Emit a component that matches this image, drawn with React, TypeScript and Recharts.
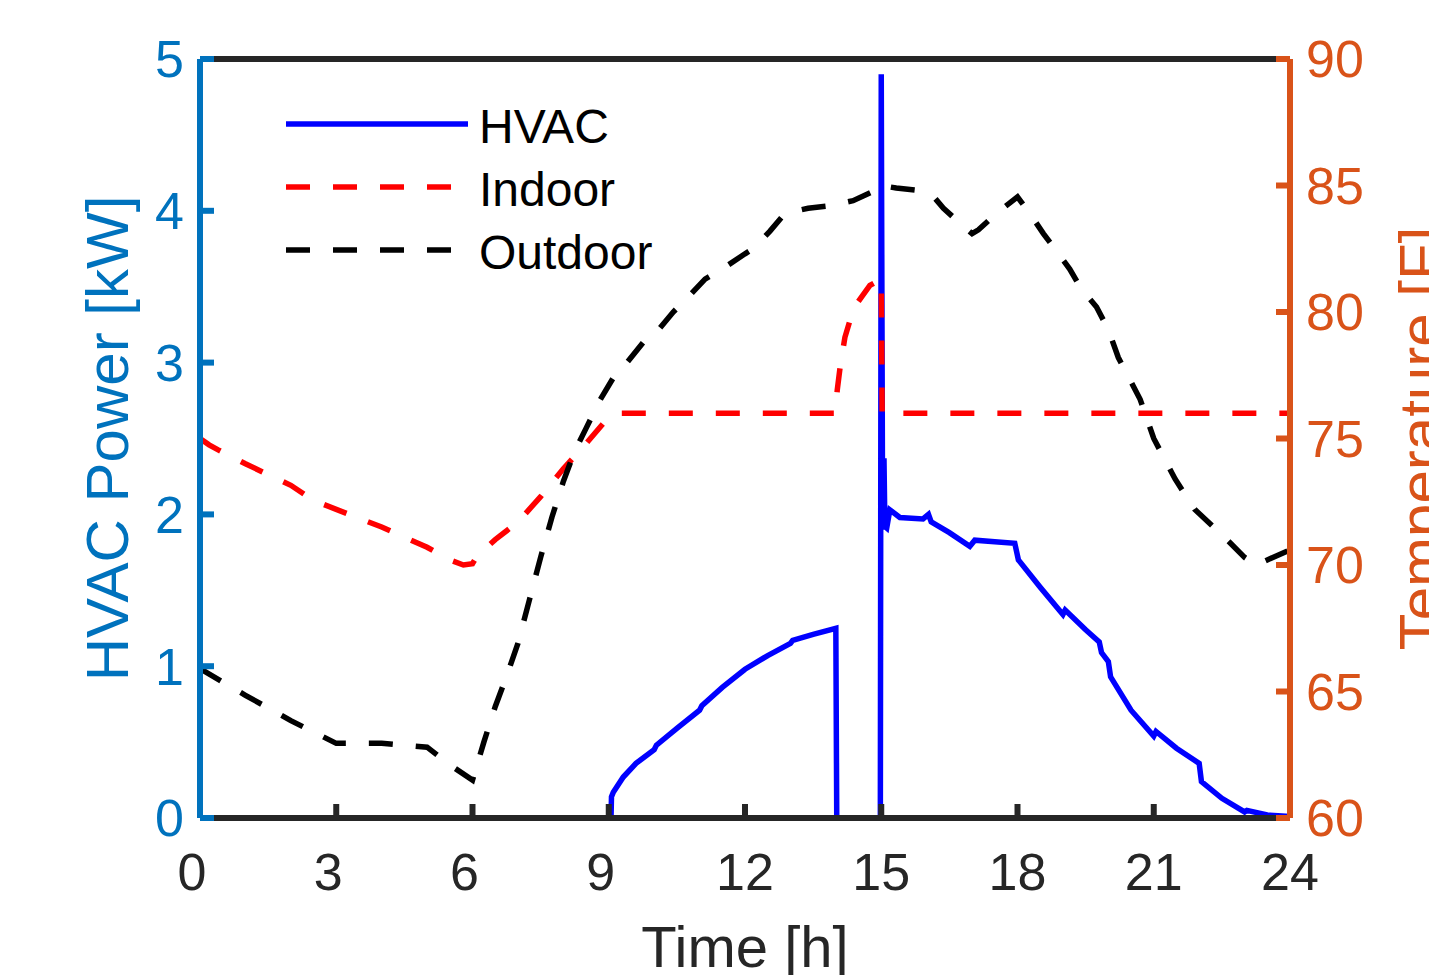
import { LineChart, Line, XAxis, YAxis, Legend, Label } from "recharts"

// HVAC power [kW] over the day
const hvacTime = [
  0, 9.05, 9.06, 9.1, 9.32, 9.6, 10.0, 10.05, 10.5, 11.0, 11.05, 11.5, 12.0, 12.5,
  13.0, 13.05, 13.5, 14.0, 14.02, 14.98, 15.0, 15.03, 15.06, 15.08, 15.12, 15.19,
  15.41, 15.92, 16.04, 16.1, 16.5, 16.95, 17.06, 17.5, 17.94, 18.02, 18.5, 19.0,
  19.05, 19.5, 19.8, 19.85, 20.0, 20.05, 20.5, 21.0, 21.05, 21.5, 22.0, 22.05,
  22.5, 23.0, 23.05, 23.5, 24,
]
const hvacPower = [
  0, 0, 0.14, 0.17, 0.27, 0.36, 0.45, 0.48, 0.59, 0.71, 0.74, 0.86, 0.98, 1.07,
  1.15, 1.17, 1.21, 1.25, 0, 0, 4.9, 1.9, 2.37, 1.92, 1.91, 2.03,
  1.98, 1.97, 2.0, 1.95, 1.88, 1.79, 1.83, 1.82, 1.81, 1.7, 1.52, 1.34,
  1.37, 1.24, 1.16, 1.09, 1.03, 0.93, 0.71, 0.54, 0.57, 0.46, 0.36, 0.24,
  0.13, 0.04, 0.05, 0.02, 0.01,
]

// indoor temperature [F]
const indoorTime = [
  0, 0.2, 0.4, 1, 2, 2.5, 3, 4, 5, 5.5, 5.8, 6.0, 6.1, 6.5, 7, 7.5, 8, 8.5, 9,
  9.2, 14.0, 14.03, 14.1, 14.2, 14.3, 14.45, 14.75, 15.0, 15.02, 24,
]
const indoorTemp = [
  75.0, 74.75, 74.55, 74.0, 73.15, 72.55, 72.2, 71.5, 70.7, 70.2, 70.0, 70.05, 70.35,
  71.0, 71.7, 72.7, 73.8, 74.8, 75.85, 76.0, 76.0, 76.9, 77.9, 79.0, 79.6, 80.3,
  81.05, 81.3, 76.0, 76.0,
]

// outdoor temperature [F]
const outdoorTime = [
  0, 1, 2, 3, 4, 5, 5.5, 6.0, 6.25, 6.5, 6.75, 7.0, 7.25, 7.5, 7.75, 8.0, 8.25,
  8.5, 8.8, 9.1, 9.4, 9.76, 10.05, 10.42, 10.75, 11.12, 11.5, 12.0, 12.18, 12.55,
  12.88, 13.39, 13.87, 14.38, 14.86, 15.0, 15.33, 15.85, 16.18, 16.37, 16.77,
  17.0, 17.14, 17.54, 18.0, 18.27, 18.57, 18.86, 19.15, 19.41, 19.74, 20.0, 20.22,
  20.7, 21.0, 21.47, 21.9, 22.5, 23.0, 23.25, 24,
]
const outdoorTemp = [
  65.9, 64.85, 63.85, 62.95, 62.95, 62.8, 62.1, 61.5, 63.0, 64.4, 65.6, 66.9, 68.6,
  70.3, 71.9, 73.3, 74.5, 75.4, 76.5, 77.4, 78.0, 78.8, 79.2, 80.0, 80.6, 81.3,
  81.7, 82.3, 82.5, 83.2, 83.9, 84.1, 84.2, 84.4, 84.8, 85.0, 84.9, 84.8, 84.5,
  84.1, 83.45, 83.1, 83.25, 83.9, 84.55, 83.9, 83.1, 82.4, 81.7, 80.9, 80.2, 79.3,
  78.2, 76.55, 75.0, 73.4, 72.2, 71.2, 70.3, 70.0, 70.6,
]

const timeTicks = [0, 3, 6, 9, 12, 15, 18, 21, 24]
const powerTicks = [0, 1, 2, 3, 4, 5]
const tempTicks = [60, 65, 70, 75, 80, 85, 90]

const toPoints = (ts: number[], vs: number[]) => ts.map((t, i) => ({ t, v: vs[i] }))

const FONT = "'Liberation Sans', Arial, Helvetica, sans-serif"
const BLUE_AXIS = "#0072BD"
const ORANGE_AXIS = "#D95319"
const DARK = "#262626"
const DASH = "24 23"
const LW = 5.5

function LegendBox({ payload }: any) {
  return (
    <svg width={420} height={190} style={{ display: "block", overflow: "visible" }}>
      {(payload || []).map((p: any, i: number) => {
        const y = 29 + i * 63
        return (
          <g key={p.value}>
            <line
              x1={16}
              x2={198}
              y1={y}
              y2={y}
              stroke={p.color}
              strokeWidth={LW}
              strokeDasharray={p.payload?.strokeDasharray}
            />
            <text x={209} y={y + 19} fontSize={48} fill="#000" fontFamily={FONT}>
              {p.value}
            </text>
          </g>
        )
      })}
    </svg>
  )
}

// matlab puts the one-digit hour labels a little left of their tick
function TimeTick({ x, y, payload }: any) {
  const v = payload?.value
  const shift = v < 10 ? -8 : 0
  return (
    <text
      x={x + shift}
      y={y}
      dy="0.71em"
      textAnchor="middle"
      fontSize={52}
      fill={DARK}
      fontFamily={FONT}
    >
      {v}
    </text>
  )
}

export default function App() {
  const axisStroke = (c: string) => ({ stroke: c, strokeWidth: 6 })

  return (
    <div
      style={{
        position: "absolute",
        left: 0,
        top: 0,
        width: 1429,
        height: 975,
        background: "#fff",
        fontFamily: FONT,
      }}
    >
      <LineChart width={1429} height={975} margin={{ top: 58, right: 0, bottom: 0, left: 0 }}>
        <XAxis
          xAxisId="bottom"
          dataKey="t"
          type="number"
          domain={[0, 24]}
          ticks={timeTicks}
          interval={0}
          height={157}
          axisLine={axisStroke(DARK)}
          tickLine={axisStroke(DARK)}
          tickSize={-14}
          tickMargin={49}
          tick={<TimeTick />}
        >
          <Label
            content={(props: any) => {
              const vb = props.viewBox || { x: 200, width: 1090, y: 818 }
              return (
                <text
                  x={vb.x + vb.width / 2}
                  y={967}
                  textAnchor="middle"
                  fontSize={58}
                  fill={DARK}
                  fontFamily={FONT}
                >
                  Time [h]
                </text>
              )
            }}
          />
        </XAxis>
        <XAxis
          xAxisId="top"
          orientation="top"
          dataKey="t"
          type="number"
          domain={[0, 24]}
          ticks={timeTicks}
          interval={0}
          height={1}
          axisLine={axisStroke(DARK)}
          tickLine={axisStroke(DARK)}
          tickSize={-14}
          tick={false}
        />
        <YAxis
          yAxisId="kw"
          type="number"
          domain={[0, 5]}
          ticks={powerTicks}
          interval={0}
          width={200}
          axisLine={axisStroke(BLUE_AXIS)}
          tickLine={axisStroke(BLUE_AXIS)}
          tickSize={-14}
          tickMargin={30}
          tick={{ fill: BLUE_AXIS, fontSize: 52, fontFamily: FONT }}
        >
          <Label
            content={(props: any) => {
              const vb = props.viewBox || { y: 59, height: 759 }
              const cy = vb.y + vb.height / 2
              return (
                <text
                  x={128}
                  y={cy}
                  transform={`rotate(-90 128 ${cy})`}
                  textAnchor="middle"
                  fontSize={60}
                  fill={BLUE_AXIS}
                  fontFamily={FONT}
                >
                  HVAC Power [kW]
                </text>
              )
            }}
          />
        </YAxis>
        <YAxis
          yAxisId="temp"
          orientation="right"
          type="number"
          domain={[60, 90]}
          ticks={tempTicks}
          interval={0}
          width={139}
          axisLine={axisStroke(ORANGE_AXIS)}
          tickLine={axisStroke(ORANGE_AXIS)}
          tickSize={-14}
          tickMargin={30}
          tick={{ fill: ORANGE_AXIS, fontSize: 52, fontFamily: FONT }}
        >
          <Label
            content={(props: any) => {
              const vb = props.viewBox || { y: 59, height: 759 }
              const cy = vb.y + vb.height / 2
              return (
                <text
                  x={1441}
                  y={cy}
                  transform={`rotate(-90 1441 ${cy})`}
                  textAnchor="middle"
                  fontSize={60}
                  fill={ORANGE_AXIS}
                  fontFamily={FONT}
                >
                  Temperature [F]
                </text>
              )
            }}
          />
        </YAxis>

        <Line
          name="HVAC"
          xAxisId="bottom"
          yAxisId="kw"
          data={toPoints(hvacTime, hvacPower)}
          dataKey="v"
          type="linear"
          stroke="#0000FF"
          strokeWidth={LW}
          dot={false}
          activeDot={false}
          isAnimationActive={false}
        />
        <Line
          name="Indoor"
          xAxisId="bottom"
          yAxisId="temp"
          data={toPoints(indoorTime, indoorTemp)}
          dataKey="v"
          type="linear"
          stroke="#FF0000"
          strokeWidth={LW}
          strokeDasharray={DASH}
          dot={false}
          activeDot={false}
          isAnimationActive={false}
        />
        <Line
          name="Outdoor"
          xAxisId="bottom"
          yAxisId="temp"
          data={toPoints(outdoorTime, outdoorTemp)}
          dataKey="v"
          type="linear"
          stroke="#000000"
          strokeWidth={LW}
          strokeDasharray={DASH}
          dot={false}
          activeDot={false}
          isAnimationActive={false}
        />

        <Legend
          layout="vertical"
          align="center"
          verticalAlign="middle"
          content={<LegendBox />}
          wrapperStyle={{ position: "absolute", left: 270, top: 95, width: 420, height: 190 }}
        />
      </LineChart>
    </div>
  )
}
